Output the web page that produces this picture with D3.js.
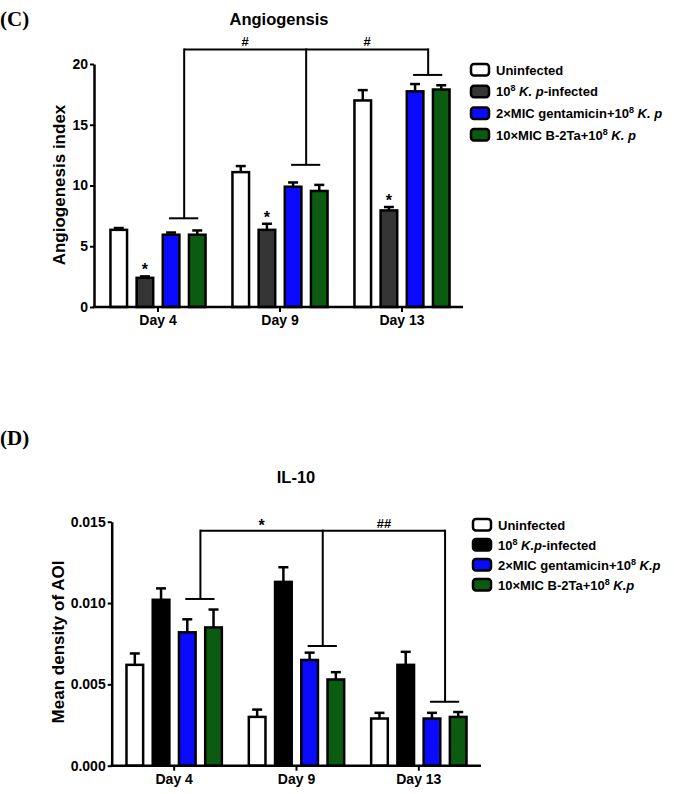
<!DOCTYPE html>
<html>
<head>
<meta charset="utf-8">
<script src="https://cdn.jsdelivr.net/npm/d3@7"></script>
<style>
body { margin: 0; background: #fff; }
svg { display: block; font-family: "Liberation Sans", Arial, sans-serif; }
</style>
</head>
<body>
<script>
// ---- data ----
var days = ["Day 4", "Day 9", "Day 13"];
var groups = ["Uninfected", "Infected", "Gentamicin", "B2Ta"];

// (C) Angiogenesis index
var angioUninfected = [6.35, 11.1, 17.0];
var angioInfected = [2.4, 6.35, 7.95];
var angioGentamicin = [5.95, 9.9, 17.75];
var angioB2Ta = [5.95, 9.55, 17.9];
var angioUninfectedErr = [0.15, 0.5, 0.85];
var angioInfectedErr = [0.12, 0.5, 0.28];
var angioGentamicinErr = [0.18, 0.35, 0.6];
var angioB2TaErr = [0.35, 0.5, 0.35];
var angioTicks = [0, 5, 10, 15, 20];
var angioStars = ["Day 4", "Day 9", "Day 13"];
var angioBracketTop = 21.2;
var angioBracketLegs = [7.3, 11.7, 19.1];
var angioBracketLabels = ["#", "#"];

// (D) IL-10
var il10Uninfected = [0.0062, 0.0030, 0.0029];
var il10Infected = [0.0102, 0.0113, 0.0062];
var il10Gentamicin = [0.0082, 0.0065, 0.0029];
var il10B2Ta = [0.0085, 0.0053, 0.0030];
var il10UninfectedErr = [0.0007, 0.00045, 0.00035];
var il10InfectedErr = [0.0007, 0.0009, 0.0008];
var il10GentamicinErr = [0.0008, 0.00045, 0.00035];
var il10B2TaErr = [0.0011, 0.00045, 0.0003];
var il10Ticks = [0, 0.005, 0.010, 0.015];
var il10BracketTop = 0.01445;
var il10BracketLegs = [0.01025, 0.00736, 0.00393];
var il10BracketLabels = ["*", "##"];

var svg = d3.select("body").append("svg")
	.attr("width", 674)
	.attr("height", 794);

function panel(o) {
	var g = svg.append("g");
	var x0 = d3.scaleBand().domain(days).range(o.xRange).paddingInner(0.2).paddingOuter(0.1);
	var x1 = d3.scaleBand().domain(groups).range([0, x0.bandwidth()]).paddingInner(0.27);
	var y = d3.scaleLinear().domain([0, o.ymax]).range([o.yBottom, o.yTop]);
	var bw = x1.bandwidth();
	var cx = function(day, grp) { return x0(day) + x1(grp) + bw / 2; };

	// bars + error bars
	o.series.forEach(function(s, i) {
		days.forEach(function(day, j) {
			var v = s.values[j], e = s.err[j];
			var xc = cx(day, groups[i]);
			g.append("line")
				.attr("x1", xc).attr("x2", xc)
				.attr("y1", y(v)).attr("y2", y(v + e))
				.attr("stroke", "#000").attr("stroke-width", 2.5);
			g.append("line")
				.attr("x1", xc - 5).attr("x2", xc + 5)
				.attr("y1", y(v + e)).attr("y2", y(v + e))
				.attr("stroke", "#000").attr("stroke-width", 2.5);
			g.append("rect")
				.attr("x", x0(day) + x1(groups[i]) + 1.25)
				.attr("y", y(v))
				.attr("width", bw - 2.5)
				.attr("height", y(0) - y(v))
				.attr("fill", s.color)
				.attr("stroke", "#000")
				.attr("stroke-width", 2.5);
		});
	});

	// stars over infected bars
	(o.stars || []).forEach(function(day) {
		var j = days.indexOf(day);
		var s = o.series[1];
		g.append("text")
			.attr("x", cx(day, groups[1]))
			.attr("y", y(s.values[j] + s.err[j]) - 1)
			.attr("text-anchor", "middle")
			.attr("font-size", 16)
			.attr("font-weight", "bold")
			.text("*");
	});

	// y axis
	var yAxis = g.append("g")
		.attr("transform", "translate(" + o.axisL + ",0)")
		.call(d3.axisLeft(y).tickValues(o.ticks).tickSize(4).tickPadding(2).tickSizeOuter(0).tickFormat(o.fmt));
	yAxis.select(".domain").attr("stroke-width", 2.5);
	yAxis.selectAll(".tick line").attr("stroke-width", 2);
	yAxis.selectAll(".tick text")
		.attr("font-size", 14).attr("font-weight", "bold")
		.attr("font-family", "Liberation Sans, Arial, sans-serif").attr("fill", "#000");

	// x axis
	g.append("line")
		.attr("x1", o.axisL - 1.25).attr("x2", o.axisR)
		.attr("y1", y(0)).attr("y2", y(0))
		.attr("stroke", "#000").attr("stroke-width", 2.5);
	var xAxis = g.append("g")
		.attr("transform", "translate(0," + y(0) + ")")
		.call(d3.axisBottom(x0).tickSize(5).tickPadding(3).tickSizeOuter(0));
	xAxis.select(".domain").remove();
	xAxis.selectAll(".tick line").attr("stroke-width", 2);
	xAxis.selectAll(".tick text")
		.attr("font-size", 14).attr("font-weight", "bold")
		.attr("font-family", "Liberation Sans, Arial, sans-serif").attr("fill", "#000");

	// comparison bracket
	var legX = days.map(function(day) {
		return (cx(day, groups[2]) + cx(day, groups[3])) / 2;
	});
	var topY = y(o.bracketTop);
	g.append("line")
		.attr("x1", legX[0]).attr("x2", legX[2])
		.attr("y1", topY).attr("y2", topY)
		.attr("stroke", "#000").attr("stroke-width", 2);
	days.forEach(function(day, j) {
		g.append("line")
			.attr("x1", legX[j]).attr("x2", legX[j])
			.attr("y1", topY - 1).attr("y2", y(o.bracketLegs[j]))
			.attr("stroke", "#000").attr("stroke-width", 2);
		g.append("line")
			.attr("x1", cx(day, groups[2]) - 2).attr("x2", cx(day, groups[3]) + 1)
			.attr("y1", y(o.bracketLegs[j])).attr("y2", y(o.bracketLegs[j]))
			.attr("stroke", "#000").attr("stroke-width", 2);
	});
	o.bracketLabels.forEach(function(lab, k) {
		g.append("text")
			.attr("x", (legX[k] + legX[k + 1]) / 2)
			.attr("y", topY - (lab == "*" ? 0 : 3))
			.attr("text-anchor", "middle")
			.attr("font-size", lab == "*" ? 16 : 13)
			.attr("font-weight", "bold")
			.text(lab);
	});

	// titles
	g.append("text")
		.attr("x", o.titleX).attr("y", o.titleY)
		.attr("text-anchor", "middle")
		.attr("font-size", 16.5).attr("font-weight", "bold")
		.text(o.title);
	g.append("text")
		.attr("x", 0).attr("y", o.letterY)
		.attr("font-family", "Liberation Serif, 'Times New Roman', serif")
		.attr("font-size", 21).attr("font-weight", "bold")
		.text(o.letter);
	g.append("text")
		.attr("transform", "translate(" + o.ylabX + "," + o.ylabY + ") rotate(-90)")
		.attr("text-anchor", "middle")
		.attr("font-size", 17).attr("font-weight", "bold")
		.text(o.ylabel);

	// legend
	o.legend.forEach(function(parts, i) {
		var ry = o.legY + i * o.legDy;
		g.append("rect")
			.attr("x", o.legX).attr("y", ry - 6)
			.attr("width", 18).attr("height", 11.5)
			.attr("rx", 3)
			.attr("fill", o.series[i].color)
			.attr("stroke", "#000").attr("stroke-width", 2.5);
		var t = g.append("text")
			.attr("x", o.legX + 25).attr("y", ry + 4.5)
			.attr("font-size", 13).attr("font-weight", "bold");
		parts.forEach(function(p) {
			var ts = t.append("tspan").text(p[0]);
			if (p[1] == "sup") ts.attr("font-size", 9).attr("dy", -5);
			if (p[1] == "it") ts.attr("font-style", "italic");
			if (p[2]) ts.attr("dy", p[2]);
		});
	});
}

var fmt3 = d3.format(".3f");

panel({
	series: [
		{ values: angioUninfected, err: angioUninfectedErr, color: "#ffffff" },
		{ values: angioInfected, err: angioInfectedErr, color: "#353535" },
		{ values: angioGentamicin, err: angioGentamicinErr, color: "#0a0aff" },
		{ values: angioB2Ta, err: angioB2TaErr, color: "#0b5c10" }
	],
	xRange: [97, 463], axisL: 94, axisR: 463,
	ymax: 20, yBottom: 307, yTop: 64,
	ticks: angioTicks, fmt: d3.format("d"),
	stars: angioStars,
	bracketTop: angioBracketTop, bracketLegs: angioBracketLegs, bracketLabels: angioBracketLabels,
	title: "Angiogensis", titleX: 279, titleY: 25,
	letter: "(C)", letterY: 26,
	ylabel: "Angiogenesis index", ylabX: 65, ylabY: 185,
	legX: 471, legY: 70, legDy: 21.7,
	legend: [
		[["Uninfected"]],
		[["10"], ["8", "sup"], [" ", null, 5], ["K. p", "it"], ["-infected"]],
		[["2×MIC gentamicin+10"], ["8", "sup"], [" ", null, 5], ["K. p", "it"]],
		[["10×MIC B-2Ta+10"], ["8", "sup"], [" ", null, 5], ["K. p", "it"]]
	]
});

panel({
	series: [
		{ values: il10Uninfected, err: il10UninfectedErr, color: "#ffffff" },
		{ values: il10Infected, err: il10InfectedErr, color: "#000000" },
		{ values: il10Gentamicin, err: il10GentamicinErr, color: "#0a0aff" },
		{ values: il10B2Ta, err: il10B2TaErr, color: "#0b5c10" }
	],
	xRange: [113, 480], axisL: 111.7, axisR: 481,
	ymax: 0.015, yBottom: 765.7, yTop: 521.7,
	ticks: il10Ticks, fmt: fmt3,
	stars: [],
	bracketTop: il10BracketTop, bracketLegs: il10BracketLegs, bracketLabels: il10BracketLabels,
	title: "IL-10", titleX: 296, titleY: 483,
	letter: "(D)", letterY: 445,
	ylabel: "Mean density of AOI", ylabX: 64, ylabY: 642,
	legX: 473, legY: 525, legDy: 20,
	legend: [
		[["Uninfected"]],
		[["10"], ["8", "sup"], [" ", null, 5], ["K.p", "it"], ["-infected"]],
		[["2×MIC gentamicin+10"], ["8", "sup"], [" ", null, 5], ["K.p", "it"]],
		[["10×MIC B-2Ta+10"], ["8", "sup"], [" ", null, 5], ["K.p", "it"]]
	]
});
</script>
</body>
</html>
